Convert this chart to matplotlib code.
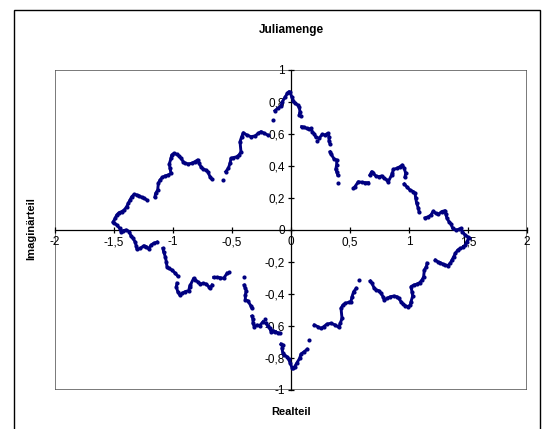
import matplotlib.pyplot as plt
import matplotlib.patches as mpatches
import numpy as np

plt.rcParams['font.family'] = ['Liberation Sans', 'DejaVu Sans']
plt.rcParams['axes.unicode_minus'] = False

nan = np.nan

# upper half of the Julia set (NaN = gap between point runs)
re_upper = [-1.506, -1.49, -1.477, -1.458, -1.435, -1.413, -1.393, -1.379, -1.364, -1.35,
            -1.328, -1.308, -1.286, -1.265, -1.243, -1.223, nan,
            -1.153, -1.147, -1.13, -1.124, -1.11, -1.09, -1.068, -1.04, -1.017, -1.025,
            -1.031, -1.017, -1.011, -0.992, -0.969, -0.949, -0.932, -0.913, -0.898, -0.87,
            -0.842, -0.814, -0.791, -0.78, -0.763, -0.743, -0.723, -0.706, -0.686, -0.672, nan,
            -0.574, nan,
            -0.553, -0.531, -0.517, -0.508, -0.489, -0.46, -0.44, -0.424, -0.432, -0.418,
            -0.404, -0.376, -0.339, -0.305, -0.277, -0.254, -0.226, -0.198, nan,
            -0.15, nan,
            -0.136, -0.113, -0.085, -0.073, -0.051, -0.031, -0.017, -0.008, 0.006, 0.02,
            0.034, 0.057, 0.07, 0.076, 0.07, 0.085, nan,
            0.09, 0.113, 0.133, 0.153, 0.169, 0.18, 0.198, 0.209, nan,
            0.22, nan,
            0.237, 0.266, 0.288, 0.311, 0.322, 0.322, 0.331, nan,
            0.331, 0.339, 0.367, 0.387, 0.387, 0.379, 0.387, 0.396, nan,
            0.396, nan,
            0.528, nan,
            0.542, 0.571, 0.599, 0.627, 0.655, nan,
            0.669, 0.684, 0.697, 0.718, 0.746, 0.768, 0.791, 0.811, 0.825, 0.853,
            0.859, 0.867, 0.896, 0.924, 0.943, 0.96, 0.972, 0.966, nan,
            0.96, 0.98, 1.008, 1.037, 1.051, 1.057, 1.065, 1.08, 1.085, nan,
            1.136, 1.164, 1.186, 1.206, 1.226, 1.248, 1.277, 1.305, 1.311, 1.322,
            1.339, 1.356, 1.37, 1.396, 1.424, 1.441, 1.452, 1.475, 1.503]
im_upper = [0.052, 0.073, 0.094, 0.108, 0.115, 0.125, 0.146, 0.167, 0.188, 0.208,
            0.223, 0.219, 0.213, 0.204, 0.198, 0.188, nan,
            0.208, 0.229, 0.25, 0.292, 0.313, 0.329, 0.338, 0.344, 0.354, 0.385,
            0.413, 0.448, 0.469, 0.479, 0.473, 0.463, 0.448, 0.427, 0.417, 0.413,
            0.417, 0.427, 0.438, 0.417, 0.396, 0.379, 0.375, 0.365, 0.333, 0.319, nan,
            0.313, nan,
            0.365, 0.385, 0.417, 0.448, 0.452, 0.458, 0.469, 0.489, 0.552, 0.583,
            0.608, 0.594, 0.583, 0.588, 0.604, 0.615, 0.604, 0.594, nan,
            0.688, nan,
            0.746, 0.76, 0.775, 0.802, 0.829, 0.854, 0.865, 0.86, 0.833, 0.808,
            0.792, 0.781, 0.767, 0.74, 0.719, 0.713, nan,
            0.646, 0.642, 0.635, 0.629, 0.635, 0.615, 0.6, 0.583, nan,
            0.558, nan,
            0.573, 0.598, 0.594, 0.604, 0.583, 0.558, 0.538, nan,
            0.489, 0.475, 0.442, 0.438, 0.406, 0.379, 0.365, 0.344, nan,
            0.292, nan,
            0.26, nan,
            0.271, 0.302, 0.298, 0.296, 0.296, nan,
            0.344, 0.365, 0.354, 0.338, 0.333, 0.338, 0.323, 0.313, 0.302, 0.344,
            0.354, 0.379, 0.385, 0.396, 0.406, 0.385, 0.354, 0.333, nan,
            0.288, 0.271, 0.25, 0.24, 0.229, 0.198, 0.167, 0.135, 0.115, nan,
            0.076, 0.083, 0.094, 0.118, 0.104, 0.098, 0.115, 0.121, 0.1, 0.073,
            0.052, 0.038, 0.01, 0.0, 0.004, 0.01, -0.01, -0.031, -0.046]

x_ticks = [-2, -1.5, -1, -0.5, 0, 0.5, 1, 1.5, 2]
x_tick_labels = ['-2', '-1,5', '-1', '-0,5', '0', '0,5', '1', '1,5', '2']
y_ticks = [-1, -0.8, -0.6, -0.4, -0.2, 0, 0.2, 0.4, 0.6, 0.8, 1]
y_tick_labels = ['-1', '-0,8', '-0,6', '-0,4', '-0,2', '0', '0,2', '0,4', '0,6', '0,8', '1']

# the set is point symmetric (z -> -z): lower half is the mirrored upper half
re_all = np.concatenate([re_upper, [nan], -np.array(re_upper)])
im_all = np.concatenate([im_upper, [nan], -np.array(im_upper)])

fig = plt.figure(figsize=(5.5, 4.29), dpi=100)

# outer chart frame
fig.patches.append(mpatches.Rectangle((14 / 550, -0.05), 526 / 550, 1.05 - 10 / 429,
                                      transform=fig.transFigure, fill=False,
                                      edgecolor='black', linewidth=1.0))

ax = fig.add_axes([55 / 550, 1 - 390 / 429, 472 / 550, 320 / 429])
ax.set_xlim(-2, 2)
ax.set_ylim(-1, 1)

# plot area border
for side in ['top', 'right']:
    ax.spines[side].set_visible(False)
ax.add_patch(mpatches.Rectangle((0, 0), 1, 1, transform=ax.transAxes, fill=False,
                                edgecolor='#555555', linewidth=1.1, zorder=1))

# axes through the origin
ax.spines['left'].set_position('zero')
ax.spines['bottom'].set_position('zero')
ax.spines['left'].set_linewidth(0.9)
ax.spines['bottom'].set_linewidth(0.9)

ax.set_xticks(x_ticks)
ax.set_xticklabels(x_tick_labels)
ax.set_yticks(y_ticks)
ax.set_yticklabels(y_tick_labels)
ax.tick_params(direction='inout', length=5, width=0.9, labelsize=8.5, pad=2)

ax.plot(re_all, im_all, color='#000080', linewidth=2.1, marker='o',
        markersize=3.0, markeredgewidth=0, zorder=3)

fig.text(291 / 550, 1 - 30 / 429, 'Juliamenge', ha='center', va='center',
         fontsize=8.5, fontweight='bold')
fig.text(291 / 550, 1 - 412 / 429, 'Realteil', ha='center', va='center',
         fontsize=8, fontweight='bold')
fig.text(31 / 550, 1 - 229 / 429, 'Imaginärteil', ha='center', va='center',
         rotation=90, fontsize=8, fontweight='bold')

fig.savefig('out.png', dpi=100)
